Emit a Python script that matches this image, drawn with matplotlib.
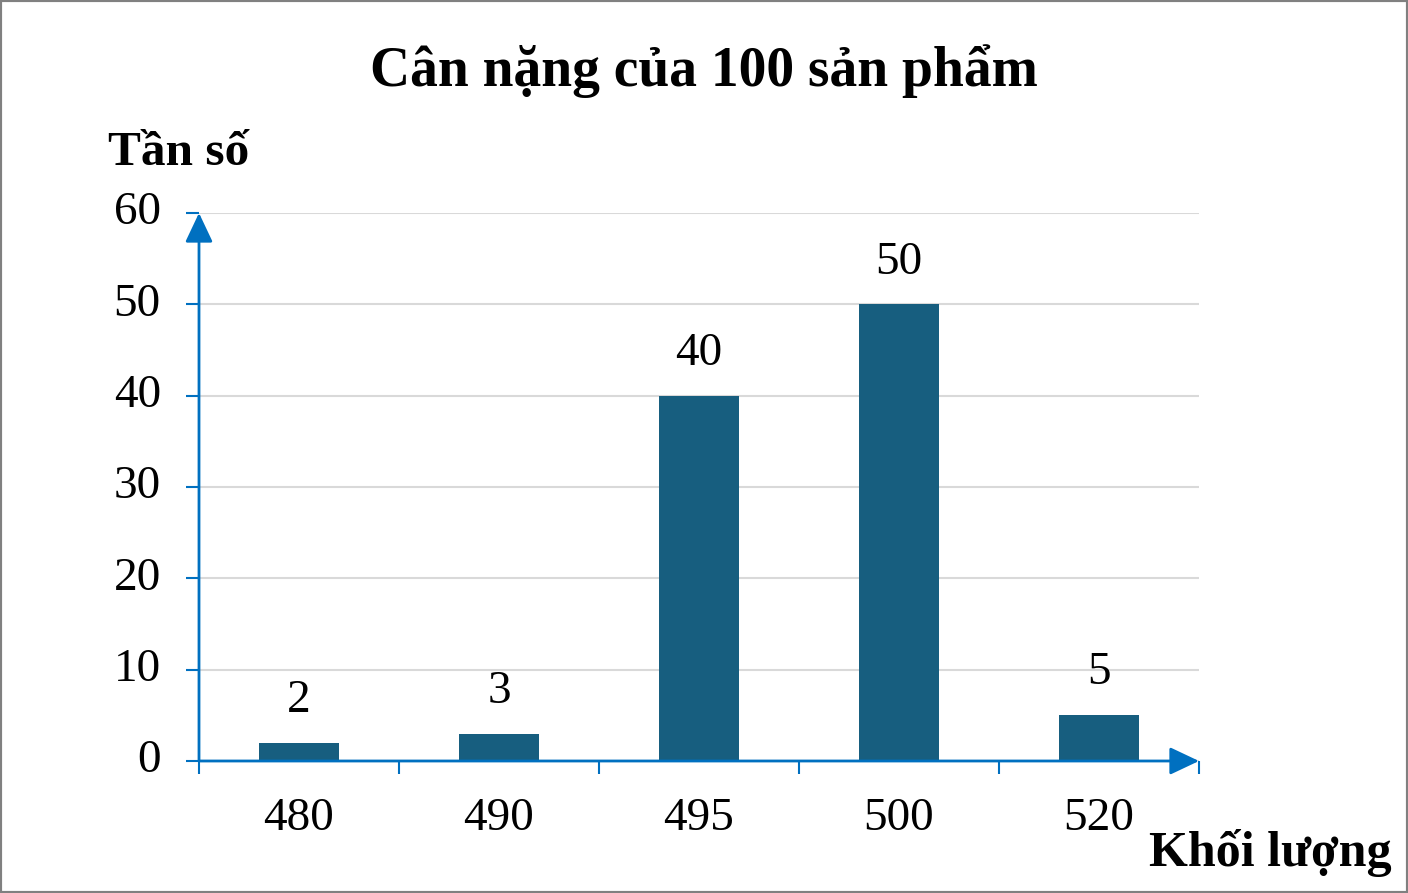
import matplotlib
matplotlib.use('Agg')
import matplotlib.pyplot as plt
from matplotlib.patches import Rectangle

plt.rcParams['font.family'] = ['Liberation Serif', 'DejaVu Serif']

# data
weights = ['480', '490', '495', '500', '520']
counts = [2, 3, 40, 50, 5]
y_ticks = [0, 10, 20, 30, 40, 50, 60]

bar_color = '#175e7f'
axis_color = '#0070c0'
grid_color = '#d9d9d9'

fig = plt.figure(figsize=(14.08, 8.93), dpi=100)
ax = fig.add_axes([199 / 1408, 132 / 893, 1000 / 1408, 548 / 893])

x = list(range(len(weights)))
ax.bar(x, counts, width=0.4, color=bar_color, zorder=3)
for xi, c in zip(x, counts):
    ax.annotate(str(c), (xi, c), xytext=(0, 15), textcoords='offset points',
                ha='center', va='bottom', fontsize=34)

ax.set_xlim(-0.5, len(weights) - 0.5)
ax.set_ylim(0, 60)

for s in ax.spines.values():
    s.set_visible(False)

# gridlines
ax.set_yticks(y_ticks)
ax.yaxis.grid(True, color=grid_color, linewidth=1.5, zorder=0)
ax.tick_params(axis='y', length=9.5, width=1.5, color=axis_color, pad=18,
               labelsize=34)
for lbl in ax.get_yticklabels():
    lbl.set_verticalalignment('center')

# x ticks: labels at centres, marks at category borders
ax.set_xticks(x)
ax.set_xticklabels(weights)
ax.set_xticks([i - 0.5 for i in range(len(weights) + 1)], minor=True)
ax.tick_params(axis='x', which='major', length=0, pad=26, labelsize=34)
ax.tick_params(axis='x', which='minor', length=9, width=1.5, color=axis_color)

# axis arrows
arrow = dict(arrowstyle='-|>,head_length=1.8,head_width=0.85', color=axis_color,
             lw=2, shrinkA=0, shrinkB=0)
ax.annotate('', xy=(0, 1), xytext=(0, 0), xycoords='axes fraction',
            arrowprops=arrow, zorder=5)
ax.annotate('', xy=(1, 0), xytext=(0, 0), xycoords='axes fraction',
            arrowprops=arrow, zorder=5)

fig.text(704 / 1408, 1 - 71 / 893, 'Cân nặng của 100 sản phẩm', ha='center',
         va='center', fontsize=40, fontweight='bold')
fig.text(108 / 1408, 1 - 153 / 893, 'Tần số', ha='left', va='center',
         fontsize=35.5, fontweight='bold')
fig.text(1392 / 1408, 1 - 853 / 893, 'Khối lượng', ha='right', va='center',
         fontsize=36, fontweight='bold')

# border
fig.patches.append(Rectangle((0, 0), 1, 1, transform=fig.transFigure,
                             fill=False, edgecolor='#808080', linewidth=3))

fig.savefig('out.png', dpi=100)
